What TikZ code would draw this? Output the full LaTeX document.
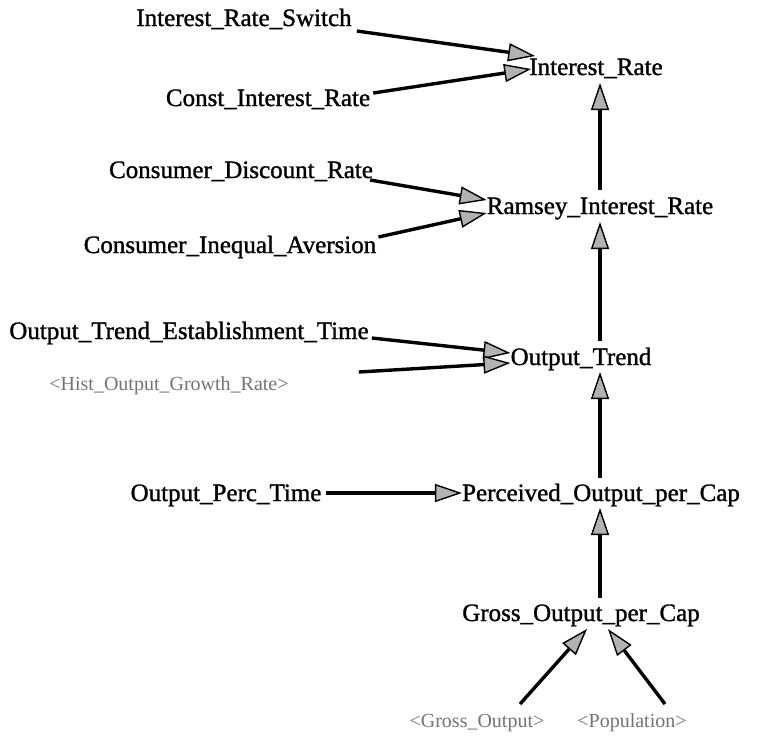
\documentclass[tikz,border=0pt]{standalone}
\usepackage{fontspec}
\setmainfont{Liberation Serif}
\newfontfamily\scanfont[FakeBold=1.2]{Liberation Serif}
\usetikzlibrary{arrows.meta}
\begin{document}
\begin{tikzpicture}[x=1pt,y=-1pt,
  var/.style={font=\scanfont\fontsize{25}{28}\selectfont, inner sep=0pt, anchor=base},
  shadowvar/.style={font=\fontsize{20}{24}\selectfont, inner sep=0pt, anchor=base, text=black!55},
  link/.style={line width=3.4pt, -{Triangle[length=27pt,width=18pt,fill=black!30,line width=1.4pt]}}]
\useasboundingbox (0,0) rectangle (775,740);
% nodes
\node[var] (irs) at (244,26) {Interest\_Rate\_Switch};
\node[var] (cir) at (268,106) {Const\_Interest\_Rate};
\node[var] (ir) at (596,75) {Interest\_Rate};
\node[var] (cdr) at (241,178) {Consumer\_Discount\_Rate};
\node[var] (cia) at (230,253) {Consumer\_Inequal\_Aversion};
\node[var] (rir) at (600,214) {Ramsey\_Interest\_Rate};
\node[var] (otet) at (189,339) {Output\_Trend\_Establishment\_Time};
\node[shadowvar] (hogr) at (169,390) {<Hist\_Output\_Growth\_Rate>};
\node[var] (ot) at (581,365) {Output\_Trend};
\node[var] (opt) at (226,501) {Output\_Perc\_Time};
\node[var] (pop) at (601,501) {Perceived\_Output\_per\_Cap};
\node[var] (gopc) at (581,621) {Gross\_Output\_per\_Cap};
\node[shadowvar] (go) at (477,727) {<Gross\_Output>};
\node[shadowvar] (popn) at (632,727) {<Population>};
% connectors
\draw[link] ([shift={(5,5)}]irs.base east) -- ([shift={(6,-19)}]ir.base west);
\draw[link] ([shift={(3,-13)}]cir.base east) -- ([shift={(2,-6)}]ir.base west);
\draw[link] ([shift={(-3,2)}]cdr.base east) -- ([shift={(0,-14)}]rir.base west);
\draw[link] ([shift={(2,-16)}]cia.base east) -- ([shift={(0,-1)}]rir.base west);
\draw[link] ([shift={(3,-1)}]otet.base east) -- ([shift={(0,-12)}]ot.base west);
\draw[link] ([shift={(70,-18)}]hogr.base east) -- ([shift={(0,-2)}]ot.base west);
\draw[link] ([shift={(4,-8)}]opt.base east) -- ([shift={(0,-8)}]pop.base west);
\draw[link] ([shift={(0,-24)}]rir.base) -- ([shift={(4,8)}]ir.base);
\draw[link] ([shift={(19,-24)}]ot.base) -- ([shift={(0,8)}]rir.base);
\draw[link] ([shift={(-1,-23)}]pop.base) -- ([shift={(19,7)}]ot.base);
\draw[link] ([shift={(19,-23)}]gopc.base) -- ([shift={(-1,7)}]pop.base);
\draw[link] ([shift={(43,-23)}]go.base) -- ([shift={(6,8)}]gopc.base);
\draw[link] ([shift={(33,-23)}]popn.base) -- ([shift={(27,8)}]gopc.base);
\end{tikzpicture}
\end{document}
